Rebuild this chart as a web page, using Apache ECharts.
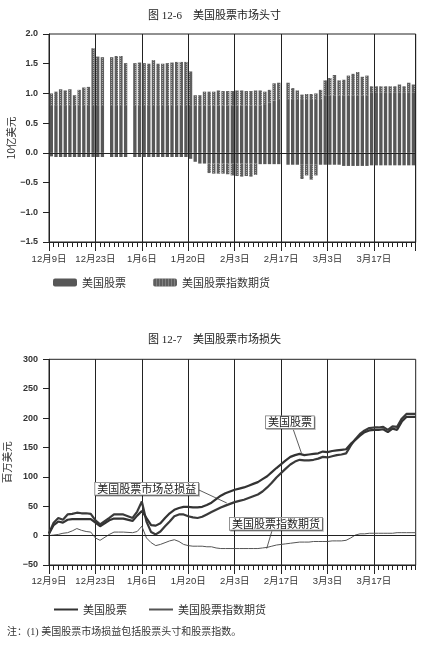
<!DOCTYPE html>
<html><head><meta charset="utf-8">
<script src="https://cdn.jsdelivr.net/npm/echarts@6/dist/echarts.min.js"></script>
<style>html,body{margin:0;padding:0;background:#fff}#a,#b{position:absolute;left:0;width:429px}#a{top:0;height:320px}#b{top:320px;height:332px}</style>
</head><body><div id="a"></div><div id="b"></div>
<script>
// ---- categories: trading days (Dec 9 – Mar 28) ----
const days = ['12月9日','12月10日','12月11日','12月12日','12月13日','12月16日','12月17日','12月18日','12月19日','12月20日','12月23日','12月24日','12月25日','12月26日','12月27日','12月30日','12月31日',
'1月1日','1月2日','1月3日','1月6日','1月7日','1月8日','1月9日','1月10日','1月13日','1月14日','1月15日','1月16日','1月17日','1月20日','1月21日','1月22日','1月23日','1月24日','1月27日','1月28日','1月29日','1月30日','1月31日',
'2月3日','2月4日','2月5日','2月6日','2月7日','2月10日','2月11日','2月12日','2月13日','2月14日','2月17日','2月18日','2月19日','2月20日','2月21日','2月24日','2月25日','2月26日','2月27日','2月28日',
'3月3日','3月4日','3月5日','3月6日','3月7日','3月10日','3月11日','3月12日','3月13日','3月14日','3月17日','3月18日','3月19日','3月20日','3月21日','3月24日','3月25日','3月26日','3月27日','3月28日'];
const positionDays = days.slice(0, 79);

// ---- Fig 12-6 positions (10亿美元) ----
const stockLong = [0.79,0.79,0.79,0.79,0.79,0.79,0.79,0.79,0.79,0.79,0.79,0.79,null,0.79,0.79,0.79,0.79,null,
0.79,0.79,0.79,0.79,0.79,0.79,0.79,0.79,0.79,0.79,0.79,0.79,0.79,
0.80,0.80,0.80,0.80,0.80,0.80,0.80,0.80,0.80,0.80,0.80,0.80,0.80,0.80,0.80,
0.82,0.85,0.88,0.89,null,
0.89,0.89,0.89,0.89,0.89,0.89,0.89,0.89,
0.96,0.96,0.96,0.96,0.96,0.96,0.96,0.96,0.96,0.96,
1.02,1.02,1.02,1.02,1.02,1.02,1.02,1.02,1.02,1.02];
const futuresLong = [0.21,0.24,0.28,0.26,0.28,0.18,0.27,0.31,0.32,0.97,0.83,0.82,null,0.82,0.84,0.84,0.72,null,
0.72,0.73,0.72,0.71,0.77,0.71,0.71,0.72,0.73,0.74,0.74,0.74,0.58,
0.17,0.17,0.23,0.23,0.23,0.25,0.24,0.24,0.24,0.25,0.25,0.24,0.24,0.25,0.25,
0.21,0.21,0.29,0.29,null,
0.29,0.20,0.16,0.09,0.10,0.10,0.11,0.17,
0.26,0.30,0.35,0.26,0.27,0.34,0.37,0.40,0.32,0.34,
0.10,0.10,0.10,0.10,0.10,0.10,0.13,0.10,0.16,0.13];
const stockShort = [-0.06,-0.07,-0.07,-0.07,-0.07,-0.07,-0.07,-0.07,-0.07,-0.07,-0.07,-0.07,null,-0.07,-0.07,-0.07,-0.07,null,
-0.07,-0.07,-0.07,-0.07,-0.07,-0.07,-0.07,-0.07,-0.07,-0.07,-0.07,-0.07,-0.10,
-0.15,-0.18,-0.18,-0.18,-0.18,-0.18,-0.18,-0.18,-0.18,-0.18,-0.18,-0.18,-0.18,-0.18,-0.19,
-0.19,-0.19,-0.19,-0.19,null,
-0.20,-0.20,-0.20,-0.20,-0.20,-0.20,-0.20,-0.20,
-0.20,-0.20,-0.20,-0.20,-0.22,-0.22,-0.22,-0.22,-0.22,-0.22,
-0.21,-0.21,-0.21,-0.21,-0.21,-0.21,-0.21,-0.21,-0.21,-0.21];
const futuresShort = [0,0,0,0,0,0,0,0,0,0,0,0,null,0,0,0,0,null,
0,0,0,0,0,0,0,0,0,0,0,0,0,
0,0,0,-0.16,-0.17,-0.17,-0.17,-0.18,-0.20,-0.21,-0.22,-0.21,-0.22,-0.19,0,
0,0,0,0,null,
0,0,0,-0.24,-0.18,-0.25,-0.18,0,
0,0,0,0,0,0,0,0,0,0,
0,0,0,0,0,0,0,0,0,0];

// ---- Fig 12-7 P&L (百万美元) ----
const stocksPL = [3,18,24,22,27,28,28,28,28,28,22,16,null,26,29,29,29,null,25,34,42,
30,18,17,21,30,38,44,47,49,
49,48,48,49,52,56,62,68,72,75,78,80,82,85,88,91,96,101,108,115,null,
128,134,137,139,137,138,139,140,143,142,144,145,146,147,
156,163,170,176,179,180,180,181,176,182,180,194,202,202,202];
const totalPL = [4,22,30,27,36,37,39,38,38,37,26,19,null,30,36,36,36,null,30,41,58,
24,6,2,7,16,24,33,36,36,
33,31,30,32,36,40,44,48,51,54,57,59,61,64,67,70,75,82,90,99,null,
114,121,126,129,128,128,129,131,134,133,135,137,138,140,
153,164,173,179,183,184,184,185,180,186,185,199,207,207,207];
const futuresPL = [0,1,2,4,5,8,12,9,7,6,-4,-8,null,2,6,6,6,null,5,7,16,
-4,-12,-17,-15,-12,-9,-7,-10,-15,
-17,-18,-18,-18,-19,-19,-21,-22,-22,-22,-22,-22,-22,-22,-22,-22,-21,-20,-18,-16,null,
-14,-13,-12,-11,-11,-11,-10,-10,-10,-10,-9,-9,-9,-8,
-4,1,3,3,4,4,4,4,4,4,5,5,5,5,5];

// annotation callouts: text, anchor [day-index, value], leader [from idx, from val, to idx, to val]
const callouts = [
  {text:'美国股票', at:[51.9,193], leader:[52.65,180,54.4,140]},
  {text:'美国股票市场总损益', at:[21.05,79.6], leader:[32.2,78,38.3,55.5]},
  {text:'美国股票指数期货', at:[48.9,20], leader:[48,7.3,46.9,-22]}
];

const SANS = "'Liberation Sans','Noto Sans CJK SC',sans-serif";
const CJK = "'Noto Sans CJK SC','Liberation Sans',sans-serif";
const SERIF = "'Liberation Serif','Noto Sans CJK SC',serif";
const INK = '#222';

function xCat(data, gap, margin, pad) {
  return {type:'category', data:data, boundaryGap:gap, position:'bottom', gridIndex:0,
    axisLine:{show:true, onZero:false, lineStyle:{color:INK, width:1}},
    axisTick:{show:true, interval:0, length:5, lineStyle:{color:INK, width:1}},
    axisLabel:{interval:9, fontSize:9.5, color:'#333', margin:margin, fontFamily:SANS, padding:pad},
    splitLine:{show:true, interval:9, lineStyle:{color:INK, width:1}}};
}
function xMajor(data, gap) {
  return {type:'category', data:data, boundaryGap:gap, position:'bottom', gridIndex:0,
    axisLine:{show:false, onZero:false}, axisLabel:{show:false}, splitLine:{show:false},
    axisTick:{show:true, interval:9, length:9, lineStyle:{color:INK, width:1}}};
}
function yVal(min, max, step, name, gap, fmt) {
  return {type:'value', min:min, max:max, interval:step, name:name, nameLocation:'middle', nameGap:gap,
    nameMoveOverlap:false,
    nameTextStyle:{fontSize:10.5, color:'#333', fontFamily:CJK},
    axisLine:{show:true, onZero:false, lineStyle:{color:INK, width:1}},
    axisTick:{show:true, length:6, lineStyle:{color:INK, width:1}},
    axisLabel:{fontSize:9, fontWeight:'bold', color:'#333', margin:11, fontFamily:SANS, formatter:fmt},
    splitLine:{show:false}};
}
const zeroLine = {silent:true, symbol:['none','none'], label:{show:false},
  lineStyle:{color:INK, type:'solid', width:1}, data:[{yAxis:0}]};
const hatch = {symbol:'rect', symbolSize:1, dashArrayX:[1,2], dashArrayY:[1,1], color:'rgba(255,255,255,0.45)'};

// ---------- Chart A ----------
const chartA = echarts.init(document.getElementById('a'), null, {renderer:'canvas'});
chartA.setOption({
  animation:false,
  textStyle:{fontFamily:CJK},
  title:{text:'图 12-6　美国股票市场头寸', left:'center', top:6,
    textStyle:{fontSize:11, fontWeight:'normal', color:'#222', fontFamily:SERIF}},
  legend:{data:['美国股票','美国股票指数期货'], left:48, top:272, itemWidth:24, itemHeight:8, itemGap:27,
    selectedMode:false, textStyle:{fontSize:11, color:'#333', fontFamily:CJK}},
  grid:{left:49, top:34, right:13.3, bottom:78, containLabel:false, outerBoundsMode:'none',
    show:true, borderColor:INK, borderWidth:1, backgroundColor:'transparent'},
  xAxis:[xCat(positionDays, true, 13, [0,4.6,0,0]), xMajor(positionDays, true)],
  yAxis:[yVal(-1.5, 2, 0.5, '10亿美元', 33, v => v.toFixed(1).replace('-', '−'))],
  series:[
    {name:'美国股票', type:'bar', stack:'p', stackStrategy:'samesign', data:stockLong, barWidth:'72%',
      itemStyle:{color:'#575757'}, markLine:zeroLine},
    {name:'美国股票指数期货', type:'bar', stack:'p', stackStrategy:'samesign', data:futuresLong, barWidth:'72%',
      itemStyle:{color:'#5e5e5e', decal:hatch}},
    {name:'美国股票', type:'bar', stack:'p', stackStrategy:'samesign', data:stockShort, barWidth:'72%',
      itemStyle:{color:'#575757'}},
    {name:'美国股票指数期货', type:'bar', stack:'p', stackStrategy:'samesign', data:futuresShort, barWidth:'72%',
      itemStyle:{color:'#5e5e5e', decal:hatch}}
  ]
});

// ---------- Chart B ----------
const chartB = echarts.init(document.getElementById('b'), null, {renderer:'canvas'});
chartB.setOption({
  animation:false,
  textStyle:{fontFamily:CJK},
  title:{text:'图 12-7　美国股票市场损失', left:'center', top:10,
    textStyle:{fontSize:11, fontWeight:'normal', color:'#222', fontFamily:SERIF}},
  legend:{data:['美国股票','美国股票指数期货'], left:49, top:279, icon:'rect', itemWidth:24, itemHeight:2, itemGap:22,
    selectedMode:false, textStyle:{fontSize:11, color:'#333', fontFamily:CJK}},
  grid:{left:49, top:39.3, right:13.3, bottom:87, containLabel:false, outerBoundsMode:'none',
    show:true, borderColor:INK, borderWidth:1, backgroundColor:'transparent'},
  xAxis:[xCat(days, false, 12, 0), xMajor(days, false),
    {type:'value', min:0, max:days.length - 1, show:false, gridIndex:0, axisLine:{onZero:false}}],
  yAxis:[yVal(-50, 300, 50, '百万美元', 37, v => String(v).replace('-', '−'))],
  graphic:[{type:'text', left:7, top:307,
    style:{text:'注：(1) 美国股票市场损益包括股票头寸和股票指数。', fontSize:10, fontFamily:SERIF, fill:'#333'}}],
  series:[
    {name:'美国股票市场总损益', type:'line', data:totalPL, symbol:'none', connectNulls:true,
      lineStyle:{width:2.2, color:'#3a3a3a'}, itemStyle:{color:'#3a3a3a'}},
    {name:'美国股票', type:'line', data:stocksPL, symbol:'none', connectNulls:true,
      lineStyle:{width:2.2, color:'#333'}, itemStyle:{color:'#333'}},
    {name:'美国股票指数期货', type:'line', data:futuresPL, symbol:'none', connectNulls:true,
      lineStyle:{width:1, color:'#555'}, itemStyle:{color:'#555'}, markLine:zeroLine},
    {name:'callouts', type:'line', xAxisIndex:2, data:[], symbol:'none', z:5,
      markLine:{silent:true, symbol:['none','none'], label:{show:false},
        lineStyle:{color:'#333', type:'solid', width:0.8},
        data:callouts.map(c => [{coord:[c.leader[0], c.leader[1]]}, {coord:[c.leader[2], c.leader[3]]}])},
      markPoint:{silent:true, symbol:'circle', symbolSize:1, itemStyle:{color:'rgba(0,0,0,0)'},
        label:{show:true, position:'inside', formatter:p => p.name, fontSize:11, color:'#222', fontFamily:CJK,
          backgroundColor:'#fff', borderColor:'#777', borderWidth:0.8, padding:[1,2,0,2],
          shadowColor:'rgba(0,0,0,0.25)', shadowOffsetX:1, shadowOffsetY:1, shadowBlur:0},
        data:callouts.map(c => ({name:c.text, coord:c.at}))}}
  ]
});
</script>
</body></html>
